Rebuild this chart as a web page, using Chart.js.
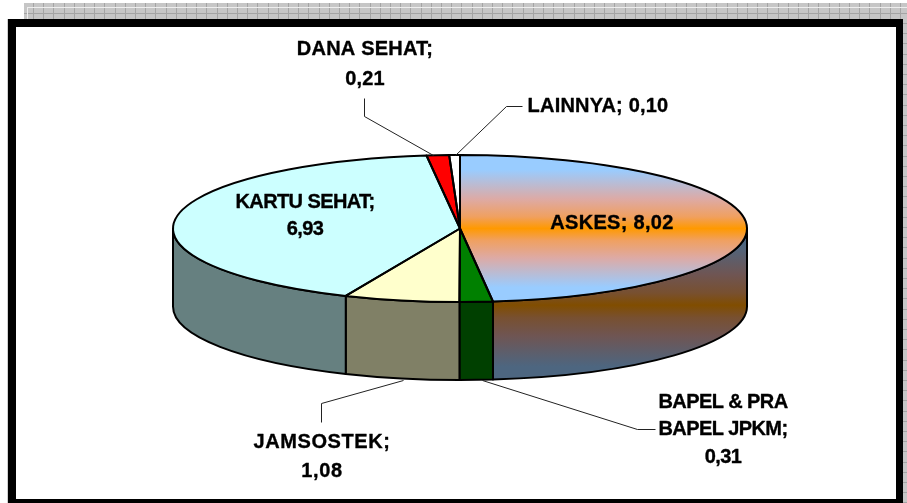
<!DOCTYPE html>
<html>
<head>
<meta charset="utf-8">
<script src="https://cdn.jsdelivr.net/npm/chart.js@4"></script>
<style>
html,body{margin:0;padding:0;background:#fff;overflow:hidden}
canvas{display:block}
</style>
</head>
<body>
<canvas id="c" width="907" height="503"></canvas>
<script>
// ---- data ----
const categories = ["ASKES", "BAPEL & PRA BAPEL JPKM", "JAMSOSTEK", "KARTU SEHAT", "DANA SEHAT", "LAINNYA"];
const values = [8.02, 0.31, 1.08, 6.93, 0.21, 0.10];
const topColors = [null, "#008000", "#ffffcc", "#ccffff", "#ff0000", "#ffffff"];
const sideColors = [null, "#004000", "#808066", "#668080", "#800000", "#808080"];

// ---- layout ----
const PIE = { cx: 460, cy: 228.5, rx: 287, ry: 73.5, depth: 78 };
const FRAME = { x: 8, y: 19, right: 903, bottom: 503, border: 8 };
const labelLayout = [
  { lines: ["ASKES; {v}"], x: 612, y: [229], sp: 0.3 },
  { lines: ["BAPEL & PRA", "BAPEL JPKM;", "{v}"], x: 723, y: [408, 435, 463], sp: -0.6 },
  { lines: ["JAMSOSTEK;", "{v}"], x: 322, y: [448, 477], sp: 0.6 },
  { lines: ["KARTU SEHAT;", "{v}"], x: 305, y: [208, 235], sp: -0.6 },
  { lines: ["DANA SEHAT;", "{v}"], x: 365, y: [55, 85], sp: 0.2 },
  { lines: ["LAINNYA; {v}"], x: 598, y: [112], sp: 0.2 }
];
const leaders = [
  null,
  [[482, 380], [637, 429], [655, 429]],
  [[403, 380], [321, 403], [321, 422]],
  null,
  [[433, 155], [364, 116], [364, 98]],
  [[455, 155], [506, 106], [522, 106]]
];
const TOP_BAND = ["#99ccff", "#99ccff", "#ddaaa5", "#f0a060", "#ff9900"];
const RIM_BAND = ["#4d6680", "#4d6680", "#6f5553", "#785030", "#804d00"];
const BAND_POS = [0, 0.1, 0.3, 0.42, 0.5];

function askesGradient(ctx, y0, y1, band) {
  const g = ctx.createLinearGradient(0, y0, 0, y1);
  band.forEach((col, i) => {
    g.addColorStop(BAND_POS[i], col);
    g.addColorStop(1 - BAND_POS[i], col);
  });
  return g;
}

const pie3d = {
  id: "pie3d",
  beforeDraw(chart) {
    const ctx = chart.ctx;
    ctx.save();
    ctx.fillStyle = "#ffffff";
    ctx.fillRect(0, 0, 907, 503);
    // patterned backdrop
    ctx.fillStyle = "#c6c6c6";
    ctx.fillRect(24, 3, 883, 17);
    ctx.fillRect(903, 19, 4, 484);
    ctx.fillStyle = "#a4a4a4";
    for (let x = 33; x < 907; x += 10.2) ctx.fillRect(Math.round(x), 3, 1, 16);
    ctx.fillRect(24, 13, 883, 1);
    for (let y = 23; y < 503; y += 10.2) ctx.fillRect(903, Math.round(y), 4, 1);
    ctx.fillStyle = "#eeeeee";
    ctx.fillRect(27, 7, 880, 1);
    ctx.fillRect(27, 7, 1, 12);
    ctx.fillStyle = "#d0d0d0";
    ctx.fillRect(7, 19, 1, 484);
    // frame
    ctx.fillStyle = "#000000";
    ctx.fillRect(FRAME.x, FRAME.y, FRAME.right - FRAME.x, FRAME.border);
    ctx.fillRect(FRAME.x, FRAME.y, FRAME.border, FRAME.bottom - FRAME.y);
    ctx.fillRect(FRAME.right - 7, FRAME.y, 7, FRAME.bottom - FRAME.y);
    ctx.fillRect(FRAME.x, 499, FRAME.right - FRAME.x, 4);
    ctx.restore();
  },
  beforeDatasetsDraw(chart) {
    const ctx = chart.ctx;
    const arcs = chart.getDatasetMeta(0).data;
    // extruded rim, lower half of the ellipse only
    ctx.save();
    ctx.lineWidth = 2;
    ctx.strokeStyle = "#000000";
    ctx.lineJoin = "round";
    arcs.forEach((arc, i) => {
      const a = Math.max(arc.startAngle, 0);
      const b = Math.min(arc.endAngle, Math.PI);
      if (a >= b) return;
      ctx.beginPath();
      ctx.ellipse(PIE.cx, PIE.cy, PIE.rx, PIE.ry, 0, a, b);
      ctx.ellipse(PIE.cx, PIE.cy + PIE.depth, PIE.rx, PIE.ry, 0, b, a, true);
      ctx.closePath();
      ctx.fillStyle = sideColors[i] ||
        askesGradient(ctx, PIE.cy, PIE.cy + PIE.ry + PIE.depth + 2, RIM_BAND);
      ctx.fill();
      ctx.stroke();
    });
    ctx.restore();
    // squash the library's round pie into the top ellipse
    const first = arcs[0];
    const R = first.outerRadius;
    ctx.save();
    ctx.translate(PIE.cx, PIE.cy);
    ctx.scale(PIE.rx / R, PIE.ry / R);
    ctx.translate(-first.x, -first.y);
  },
  afterDatasetsDraw(chart) {
    const ctx = chart.ctx;
    ctx.restore();
    const arcs = chart.getDatasetMeta(0).data;
    // even outlines for the top face
    ctx.save();
    ctx.lineWidth = 2;
    ctx.strokeStyle = "#000000";
    ctx.lineJoin = "round";
    arcs.forEach(arc => {
      ctx.beginPath();
      ctx.moveTo(PIE.cx, PIE.cy);
      ctx.ellipse(PIE.cx, PIE.cy, PIE.rx, PIE.ry, 0, arc.startAngle, arc.endAngle);
      ctx.closePath();
      ctx.stroke();
    });
    // leader lines
    ctx.lineWidth = 1;
    ctx.strokeStyle = "#222222";
    leaders.forEach(pts => {
      if (!pts) return;
      ctx.beginPath();
      pts.forEach((p, k) => k ? ctx.lineTo(p[0] + .5, p[1] + .5) : ctx.moveTo(p[0] + .5, p[1] + .5));
      ctx.stroke();
    });
    // data labels
    ctx.fillStyle = "#000000";
    ctx.strokeStyle = "#000000";
    ctx.lineWidth = 0.35;
    ctx.font = "bold 20px 'Liberation Sans', Arial, sans-serif";
    ctx.textAlign = "center";
    ctx.textBaseline = "alphabetic";
    labelLayout.forEach((lab, i) => {
      const v = values[i].toFixed(2).replace(".", ",");
      ctx.letterSpacing = lab.sp + "px";
      lab.lines.forEach((t, k) => {
        const s = t.replace("{v}", v);
        ctx.fillText(s, lab.x, lab.y[k]);
        ctx.strokeText(s, lab.x, lab.y[k]);
      });
    });
    ctx.restore();
  }
};

new Chart(document.getElementById("c"), {
  type: "pie",
  data: {
    labels: categories,
    datasets: [{
      data: values,
      borderWidth: 0,
      backgroundColor: c => topColors[c.dataIndex] ||
        askesGradient(c.chart.ctx, 0, c.chart.height, TOP_BAND)
    }]
  },
  options: {
    responsive: false,
    animation: false,
    plugins: { legend: { display: false }, tooltip: { enabled: false } }
  },
  plugins: [pie3d]
});
</script>
</body>
</html>
